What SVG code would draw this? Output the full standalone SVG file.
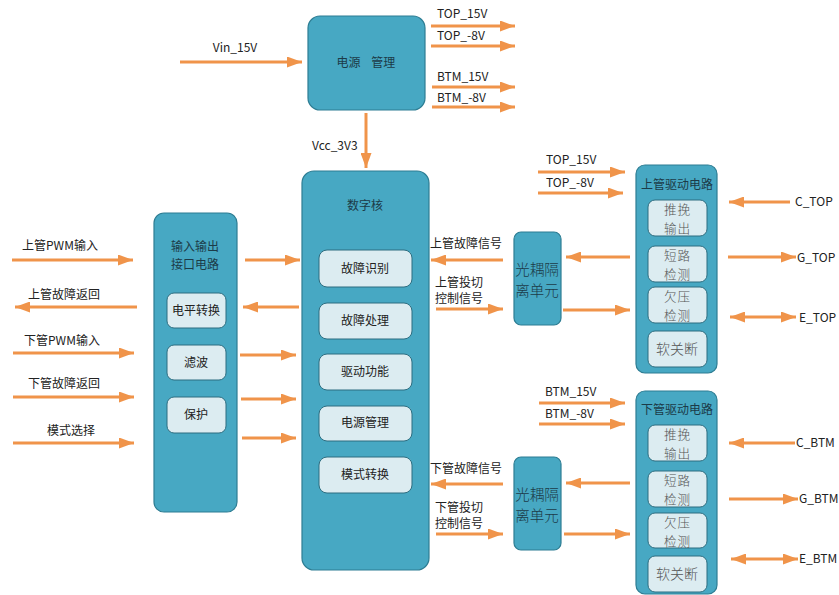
<svg xmlns="http://www.w3.org/2000/svg" width="839" height="595" viewBox="0 0 839 595">
<defs>
<marker id="ah" markerUnits="userSpaceOnUse" markerWidth="15" markerHeight="11" refX="15" refY="5.5" orient="auto-start-reverse">
<path d="M0,0 L15,5.5 L0,11 Z" fill="#f0944a"/>
</marker>
</defs>
<style>
.big{fill:#47a8c3;stroke:#2d7d93;stroke-width:1.2}
.sub{fill:#dcecf1;stroke:#2d6d80;stroke-width:1}
.t{font-family:"Noto Sans CJK SC","Liberation Sans",sans-serif;font-size:12px;fill:#222}
.tb{font-family:"Noto Sans CJK SC","Liberation Sans",sans-serif;font-size:12px;fill:#1c3b48}
.ts{font-family:"Noto Sans CJK SC",sans-serif;font-size:12.6px;fill:#555;font-weight:300;letter-spacing:1px}
.ts1{font-family:"Noto Sans CJK SC",sans-serif;font-size:14px;fill:#555;font-weight:300}
.to{font-family:"Noto Sans CJK SC",sans-serif;font-size:14.5px;fill:#1c3b48;font-weight:300}
.c line{stroke:#f0944a;stroke-width:3;marker-end:url(#ah)}
.c line.d{marker-start:url(#ah)}
</style>
<rect width="839" height="595" fill="#fff"/>

<g id="power">
<rect class="big" x="308" y="16" width="117" height="94" rx="12"/>
<text class="tb" x="366" y="67" text-anchor="middle" xml:space="preserve">电源    管理</text>
</g>

<g id="core">
<rect class="big" x="302" y="171" width="127" height="399" rx="12"/>
<text class="tb" x="365" y="210" text-anchor="middle">数字核</text>
<rect class="sub" x="319" y="250" width="93" height="37" rx="8"/>
<text class="t" x="365" y="273" text-anchor="middle">故障识别</text>
<rect class="sub" x="319" y="303" width="93" height="36" rx="8"/>
<text class="t" x="365" y="325" text-anchor="middle">故障处理</text>
<rect class="sub" x="319" y="354" width="93" height="36" rx="8"/>
<text class="t" x="365" y="376" text-anchor="middle">驱动功能</text>
<rect class="sub" x="319" y="406" width="93" height="35" rx="8"/>
<text class="t" x="365" y="427" text-anchor="middle">电源管理</text>
<rect class="sub" x="319" y="457" width="93" height="36" rx="8"/>
<text class="t" x="365" y="479" text-anchor="middle">模式转换</text>
</g>

<g id="io">
<rect class="big" x="154" y="213" width="83" height="299" rx="10"/>
<text class="tb" text-anchor="middle"><tspan x="195" y="251">输入输出</tspan><tspan x="195" y="269">接口电路</tspan></text>
<rect class="sub" x="167" y="293" width="59" height="35" rx="7"/>
<text class="t" x="196" y="315" text-anchor="middle">电平转换</text>
<rect class="sub" x="167" y="345" width="59" height="35" rx="7"/>
<text class="t" x="196" y="367" text-anchor="middle">滤波</text>
<rect class="sub" x="167" y="397" width="59" height="36" rx="7"/>
<text class="t" x="196" y="419" text-anchor="middle">保护</text>
</g>

<g id="opto-top">
<rect class="big" x="514" y="232" width="47" height="93" rx="7"/>
<text class="to" text-anchor="middle"><tspan x="537" y="275">光耦隔</tspan><tspan x="537" y="296">离单元</tspan></text>
</g>

<g id="opto-btm">
<rect class="big" x="514" y="457" width="47" height="93" rx="7"/>
<text class="to" text-anchor="middle"><tspan x="537" y="500">光耦隔</tspan><tspan x="537" y="521">离单元</tspan></text>
</g>

<g id="drv-top">
<rect class="big" x="636" y="165" width="81" height="208" rx="9"/>
<text class="tb" x="677" y="189" text-anchor="middle">上管驱动电路</text>
<rect class="sub" x="648" y="200" width="59" height="36" rx="7"/>
<text class="ts" text-anchor="middle"><tspan x="677.5" y="214">推挽</tspan><tspan x="677.5" y="232.5">输出</tspan></text>
<rect class="sub" x="648" y="246" width="59" height="36" rx="7"/>
<text class="ts" text-anchor="middle"><tspan x="677.5" y="260">短路</tspan><tspan x="677.5" y="278.5">检测</tspan></text>
<rect class="sub" x="648" y="287" width="59" height="36" rx="7"/>
<text class="ts" text-anchor="middle"><tspan x="677.5" y="301">欠压</tspan><tspan x="677.5" y="319.5">检测</tspan></text>
<rect class="sub" x="648" y="331" width="59" height="36" rx="7"/>
<text class="ts1" x="677" y="354" text-anchor="middle">软关断</text>
</g>

<g id="drv-btm">
<rect class="big" x="636" y="391" width="81" height="203" rx="9"/>
<text class="tb" x="677" y="414" text-anchor="middle">下管驱动电路</text>
<rect class="sub" x="648" y="425" width="59" height="36" rx="7"/>
<text class="ts" text-anchor="middle"><tspan x="677.5" y="439">推挽</tspan><tspan x="677.5" y="457.5">输出</tspan></text>
<rect class="sub" x="648" y="471" width="59" height="36" rx="7"/>
<text class="ts" text-anchor="middle"><tspan x="677.5" y="485">短路</tspan><tspan x="677.5" y="503.5">检测</tspan></text>
<rect class="sub" x="648" y="513" width="59" height="35" rx="7"/>
<text class="ts" text-anchor="middle"><tspan x="677.5" y="527">欠压</tspan><tspan x="677.5" y="545.5">检测</tspan></text>
<rect class="sub" x="648" y="556" width="59" height="36" rx="7"/>
<text class="ts1" x="677" y="579" text-anchor="middle">软关断</text>
</g>

<g id="connectors" class="c">
<line x1="180" y1="62" x2="302" y2="62"/>
<line x1="431" y1="26" x2="515" y2="26"/>
<line x1="431" y1="46" x2="515" y2="46"/>
<line x1="432" y1="87" x2="515" y2="87"/>
<line x1="432" y1="107" x2="515" y2="107"/>
<line x1="366" y1="113" x2="366" y2="168"/>
<line x1="12" y1="260" x2="133" y2="260"/>
<line x1="137" y1="307" x2="15" y2="307"/>
<line x1="13" y1="353" x2="134" y2="353"/>
<line x1="13" y1="397" x2="134" y2="397"/>
<line x1="13" y1="443" x2="134" y2="443"/>
<line x1="245" y1="260" x2="300" y2="260"/>
<line x1="299" y1="307" x2="243" y2="307"/>
<line x1="240" y1="355" x2="296" y2="355"/>
<line x1="241" y1="399" x2="296" y2="399"/>
<line x1="242" y1="438" x2="296" y2="438"/>
<line x1="503" y1="260" x2="431" y2="260"/>
<line x1="436" y1="309" x2="503" y2="309"/>
<line x1="503" y1="484" x2="431" y2="484"/>
<line x1="436" y1="534" x2="503" y2="534"/>
<line x1="538" y1="172" x2="625" y2="172"/>
<line x1="538" y1="193" x2="623" y2="193"/>
<line x1="630" y1="257" x2="566" y2="257"/>
<line x1="563" y1="310" x2="630" y2="310"/>
<line x1="790" y1="202" x2="729" y2="202"/>
<line x1="728" y1="257" x2="796" y2="257"/>
<line class="d" x1="730" y1="317" x2="796" y2="317"/>
<line x1="539" y1="403" x2="625" y2="403"/>
<line x1="539" y1="424" x2="625" y2="424"/>
<line x1="630" y1="483" x2="566" y2="483"/>
<line x1="564" y1="534" x2="630" y2="534"/>
<line x1="795" y1="443" x2="729" y2="443"/>
<line x1="729" y1="499" x2="798" y2="499"/>
<line class="d" x1="731" y1="559" x2="798" y2="559"/>
</g>

<g id="labels">
<text class="t" x="235" y="52" text-anchor="middle">Vin_15V</text>
<text class="t" x="437" y="18">TOP_15V</text>
<text class="t" x="437" y="40">TOP_-8V</text>
<text class="t" x="437" y="81">BTM_15V</text>
<text class="t" x="437" y="102">BTM_-8V</text>
<text class="t" x="312" y="150">Vcc_3V3</text>
<text class="t" x="22" y="250">上管PWM输入</text>
<text class="t" x="28" y="299">上管故障返回</text>
<text class="t" x="24" y="345">下管PWM输入</text>
<text class="t" x="28" y="388">下管故障返回</text>
<text class="t" x="47" y="435">模式选择</text>
<text class="t" x="430" y="248">上管故障信号</text>
<text class="t"><tspan x="435" y="287">上管投切</tspan><tspan x="435" y="303">控制信号</tspan></text>
<text class="t" x="430" y="473">下管故障信号</text>
<text class="t"><tspan x="435" y="512">下管投切</tspan><tspan x="435" y="528">控制信号</tspan></text>
<text class="t" x="546" y="164">TOP_15V</text>
<text class="t" x="546" y="187">TOP_-8V</text>
<text class="t" x="545" y="396">BTM_15V</text>
<text class="t" x="545" y="418">BTM_-8V</text>
<text class="t" x="795" y="206">C_TOP</text>
<text class="t" x="797" y="262">G_TOP</text>
<text class="t" x="799" y="322">E_TOP</text>
<text class="t" x="796" y="447">C_BTM</text>
<text class="t" x="799" y="503">G_BTM</text>
<text class="t" x="799" y="563">E_BTM</text>
</g>
</svg>
